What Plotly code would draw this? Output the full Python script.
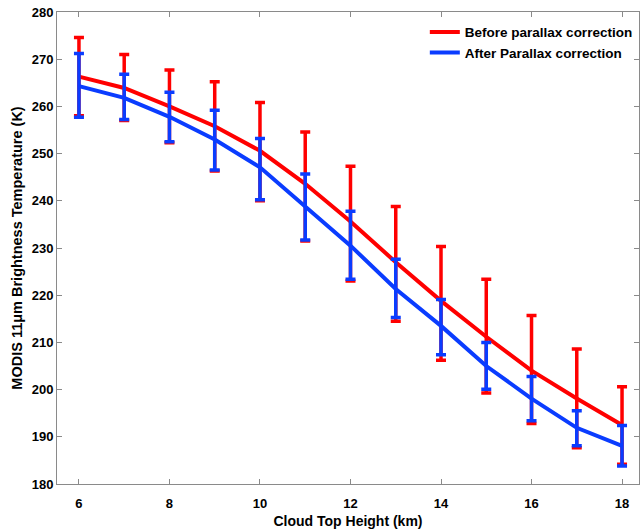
import plotly.graph_objects as go

heights = [6, 7, 8, 9, 10, 11, 12, 13, 14, 15, 16, 17, 18]

before_mean = [266.3, 263.9, 260.0, 255.8, 250.6, 243.6, 235.6, 227.0, 218.8, 211.2, 204.0, 198.1, 192.5]
before_upper = [274.6, 271.0, 267.7, 265.2, 260.8, 254.6, 247.3, 238.8, 230.3, 223.4, 215.7, 208.6, 200.6]
before_lower = [258.0, 257.0, 252.3, 246.3, 240.0, 231.5, 223.0, 214.5, 206.2, 199.3, 192.8, 187.7, 184.2]

after_mean = [264.3, 261.8, 257.8, 253.0, 247.1, 238.9, 230.5, 221.3, 213.5, 205.0, 198.1, 191.9, 188.1]
after_upper = [271.2, 266.8, 263.0, 259.2, 253.2, 245.7, 237.8, 227.6, 219.1, 210.0, 202.8, 195.5, 192.4]
after_lower = [257.7, 257.2, 252.5, 246.5, 240.2, 231.7, 223.4, 215.3, 207.4, 200.1, 193.4, 188.1, 183.8]

x_ticks = [6, 8, 10, 12, 14, 16, 18]
y_ticks = [180, 190, 200, 210, 220, 230, 240, 250, 260, 270, 280]

RED = "#ff0000"
BLUE = "#0a3cff"

def err(mean, up, lo):
    return dict(
        type="data", symmetric=False,
        array=[u - m for u, m in zip(up, mean)],
        arrayminus=[m - l for m, l in zip(mean, lo)],
        thickness=3.5, width=5,
    )

fig = go.Figure()
fig.add_trace(go.Scatter(
    x=heights, y=before_mean, mode="lines", name="Before parallax correction",
    line=dict(color=RED, width=4),
    error_y={**err(before_mean, before_upper, before_lower), "color": RED},
))
fig.add_trace(go.Scatter(
    x=heights, y=after_mean, mode="lines", name="After Parallax correction",
    line=dict(color=BLUE, width=4),
    error_y={**err(after_mean, after_upper, after_lower), "color": BLUE},
))

font_family = "Liberation Sans, Arial, sans-serif"
axis_common = dict(
    showline=True, linecolor="#8a8a8a", linewidth=1, mirror="ticks",
    ticks="inside", ticklen=5, tickcolor="#8a8a8a", tickwidth=1,
    showgrid=False, zeroline=False,
    tickfont=dict(family=font_family, size=13, color="black", weight="bold"),
)

fig.update_layout(
    width=640, height=529,
    margin=dict(l=57, r=1, t=12, b=45),
    paper_bgcolor="white", plot_bgcolor="white",
    font=dict(family=font_family, color="black"),
    xaxis=dict(
        range=[5.515, 18.375], tickvals=x_ticks,
        title=dict(text="<b>Cloud Top Height (km)</b>", font=dict(size=14), standoff=8),
        ticklabelstandoff=7,
        **axis_common,
    ),
    yaxis=dict(
        range=[180, 280], tickvals=y_ticks,
        title=dict(text="<b>MODIS 11μm Brightness Temperature (K)</b>", font=dict(size=14.5), standoff=5),
        ticklabelstandoff=0,
        **axis_common,
    ),
    legend=dict(
        x=0.632, y=0.99, xanchor="left", yanchor="top",
        bgcolor="rgba(0,0,0,0)", borderwidth=0,
        font=dict(family=font_family, size=13.5, color="black", weight="bold"),
        tracegroupgap=0,
    ),
    showlegend=True,
)

fig.write_html("out.html")
